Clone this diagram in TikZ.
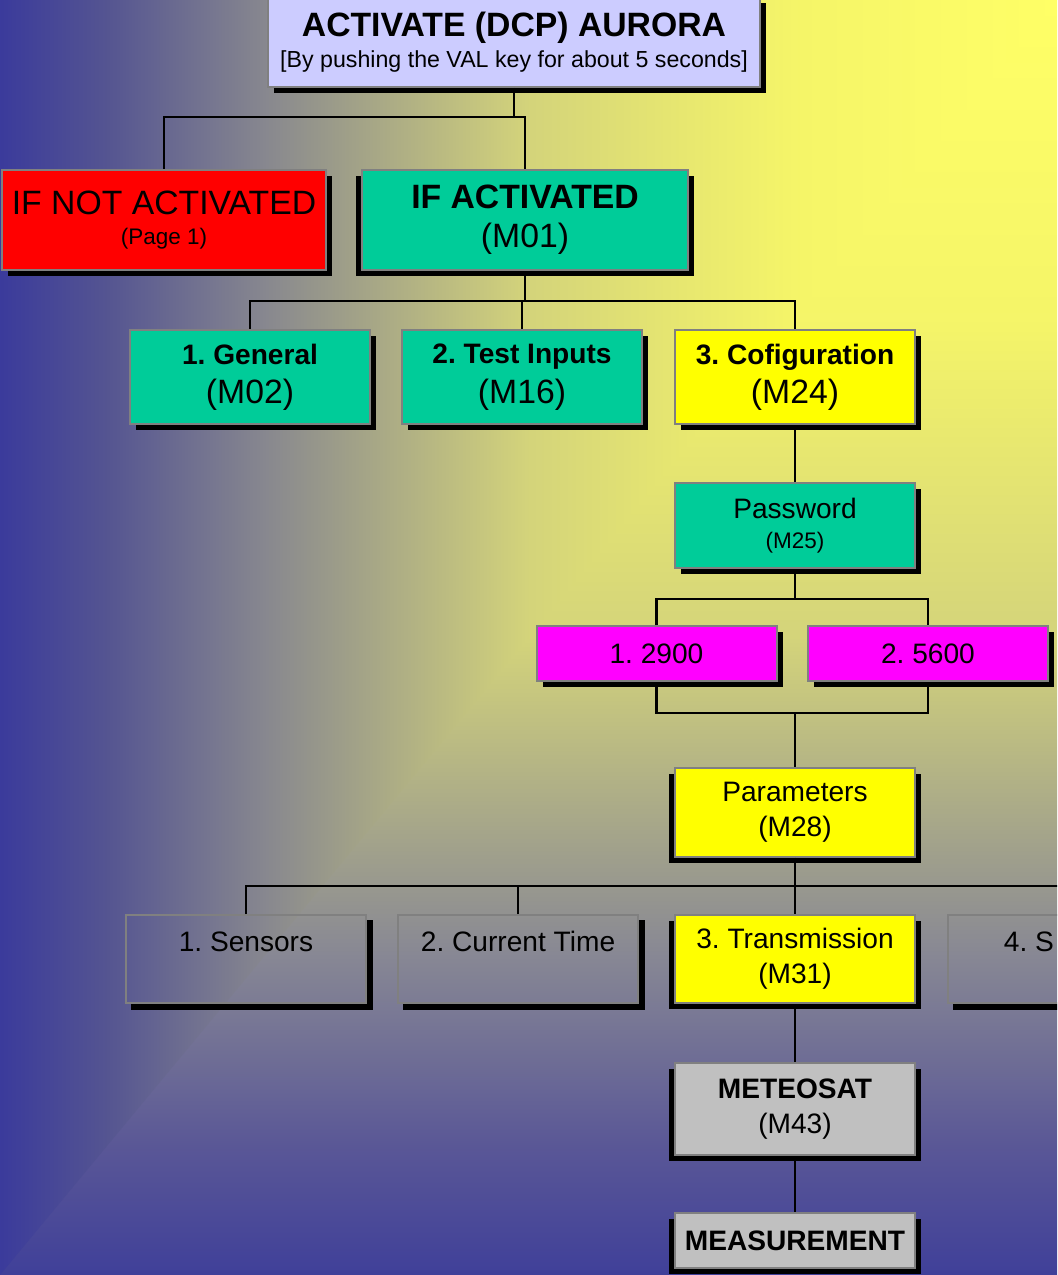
\documentclass[tikz,border=0pt]{standalone}
\usepackage{fontspec}
\setmainfont{Liberation Sans}
\frenchspacing
\usetikzlibrary{shadows,positioning}

\definecolor{boxgray}{HTML}{808080}
\definecolor{lavender}{HTML}{CCCCFF}
\definecolor{menuteal}{HTML}{00CC99}
\definecolor{menuyellow}{HTML}{FFFF00}
\definecolor{menumagenta}{HTML}{FF00FF}
\definecolor{menusilver}{HTML}{C0C0C0}

\pgfdeclarehorizontalshading{bgside}{100bp}{rgb(0bp)=(0.23,0.23,0.61); rgb(25bp)=(0.23,0.23,0.61); rgb(30bp)=(0.33,0.33,0.57); rgb(37.5bp)=(0.53,0.53,0.56); rgb(50bp)=(0.83,0.83,0.48); rgb(62.5bp)=(0.96,0.96,0.41); rgb(75bp)=(1,1,0.4); rgb(100bp)=(1,1,0.4)}
\pgfdeclareverticalshading{bgdown}{100bp}{rgb(0bp)=(0.25,0.25,0.60); rgb(25bp)=(0.25,0.25,0.60); rgb(30bp)=(0.35,0.34,0.59); rgb(37.5bp)=(0.53,0.53,0.58); rgb(50bp)=(0.83,0.83,0.48); rgb(62.5bp)=(0.96,0.96,0.41); rgb(75bp)=(1,1,0.4); rgb(100bp)=(1,1,0.4)}

\newcommand{\fbig}{\fontsize{24}{30}\selectfont}
\newcommand{\fmid}{\fontsize{20}{25}\selectfont}
\newcommand{\fsmall}{\fontsize{16}{16}\selectfont}

\tikzset{
  plainbox/.style={draw=boxgray, line width=0.5mm, inner sep=0pt, align=center,
    minimum width=60mm, minimum height=22mm, font=\fmid},
  box/.style={plainbox, general shadow={fill=black, shadow xshift=1.5mm, shadow yshift=-1.5mm}},
  active/.style={box, general shadow={fill=black, shadow xshift=-1.5mm, shadow yshift=-1.5mm}},
  link/.style={line width=0.6mm},
}

\begin{document}
\begin{tikzpicture}[x=0.25mm, y=-0.25mm]

    % BACKGROUND
    \path[use as bounding box] (0,0) rectangle (1057,1275);
    \clip (0,0) rectangle (1057,1275);
    \shade[shading=bgdown] (0,0) rectangle (1057,1275);
    \shade[shading=bgside] (0,0) -- (1057,0) -- (0,1275) -- cycle;

    % START
    \node[box, fill=lavender, minimum width=123mm, minimum height=22.5mm] (top) at (514,42)
        {{\fbig\bfseries ACTIVATE (DCP) AURORA}\\[-3pt]{\fontsize{16.5}{17}\selectfont [By pushing the VAL key for about 5 seconds]}};
    \node[box, fill=red, minimum width=81mm, minimum height=25mm] (ifnot) at (164,220)
        {{\fbig IF NOT ACTIVATED}\\[-4pt]{\fsmall (Page 1)}};
    \node[active, fill=menuteal, minimum width=81.5mm, minimum height=25mm] (ifact) at (525,220)
        {{\fbig\bfseries IF ACTIVATED}\\[3pt]{\fbig (M01)}};

    % MAIN MENU
    \node[box, fill=menuteal, minimum height=23.5mm] (gen) at (250,377) {\textbf{1. General}\\[3pt]{\fbig (M02)}};
    \node[box, fill=menuteal, minimum height=23.5mm] (test) at (522,377) {\textbf{2. Test Inputs}\\[3pt]{\fbig (M16)}};
    \node[box, fill=menuyellow, minimum height=23.5mm] (conf) at (795,377) {\textbf{3. Cofiguration}\\[3pt]{\fbig (M24)}};

    % PASSWORD
    \node[box, fill=menuteal, minimum height=21.25mm] (pass) at (795,525.5) {Password\\[-3.5pt]{\fsmall (M25)}};
    \node[box, fill=menumagenta, minimum height=13.75mm] (p2900) at (656.5,653.5) {1. 2900};
    \node[box, fill=menumagenta, minimum height=13.75mm] (p5600) at (928,653.5) {2. 5600};

    % PARAMETERS
    \node[active, fill=menuyellow, minimum height=22.25mm] (par) at (795,812) {Parameters\\(M28)};
    \node[plainbox] (sens) at (246,959) {1. Sensors\\~};
    \node[plainbox] (time) at (518,959) {2. Current Time\\~};
    \node[active, fill=menuyellow] (trans) at (795,959) {3. Transmission\\(M31)};
    \node[plainbox] (fourth) at (1068,959) {};
    \node[anchor=base west, font=\fmid] (fourthtxt) at (999,951) {4. S};
    \foreach \n in {sens,time,fourth}{
        \fill ([shift={(0,6)}]\n.north east) rectangle ([shift={(6,6)}]\n.south east);
        \fill ([shift={(6,0)}]\n.south west) rectangle ([shift={(6,6)}]\n.south east);
    }

    % TRANSMISSION
    \node[active, fill=menusilver, minimum height=23mm] (met) at (795,1109) {\textbf{METEOSAT}\\(M43)};
    \node[active, fill=menusilver, minimum height=13.75mm] (meas) at (795,1240.5) {\textbf{MEASUREMENT}};

    % CONNECTORS
    \coordinate (j1) at (0,117);
    \coordinate (j2) at (0,301);
    \coordinate (j3) at (0,599);
    \coordinate (j4) at (0,713);
    \coordinate (j5) at (0,886);
    \draw[link] (top.south) -- (top.south |- j1);
    \draw[link] (ifnot.north) |- (ifact.north |- j1) -- (ifact.north);
    \draw[link] (ifact.south) -- (ifact.south |- j2);
    \draw[link] (gen.north) |- (conf.north |- j2) -- (conf.north);
    \draw[link] (test.north) -- (test.north |- j2);
    \draw[link] (conf.south) -- (pass.north);
    \draw[link] (pass.south) -- (pass.south |- j3);
    \draw[link] (p2900.north) |- (p5600.north |- j3) -- (p5600.north);
    \draw[link] (p2900.south) |- (p5600.south |- j4) -- (p5600.south);
    \draw[link] (pass.south |- j4) -- (par.north);
    \draw[link] (par.south) -- (trans.north);
    \draw[link] (sens.north) |- (fourth.north |- j5) -- (fourth.north);
    \draw[link] (time.north) -- (time.north |- j5);
    \draw[link] (trans.south) -- (met.north);
    \draw[link] (met.south) -- (meas.north);

\end{tikzpicture}
\end{document}
